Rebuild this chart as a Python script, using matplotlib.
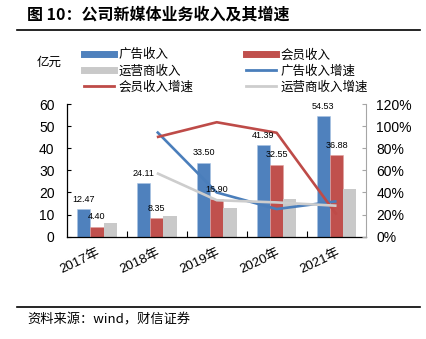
import matplotlib.pyplot as plt
from matplotlib.lines import Line2D
from matplotlib.ticker import FuncFormatter
import numpy as np

plt.rcParams['font.family'] = ['Liberation Sans', 'Noto Sans CJK SC', 'DejaVu Sans']

# data
years = ['2017年', '2018年', '2019年', '2020年', '2021年']
ad_rev = [12.47, 24.11, 33.50, 41.39, 54.53]
vip_rev = [4.40, 8.35, 16.90, 32.55, 36.88]
op_rev = [6.2, 9.3, 12.8, 17.0, 21.5]
# growth rates (2018-2021)
ad_growth = [0.95, 0.40, 0.25, 0.32]
vip_growth = [0.90, 1.035, 0.94, 0.20]
op_growth = [0.575, 0.33, 0.31, 0.28]

c_blue, c_red, c_grey = '#4F81BD', '#C0504D', '#C9C9C9'
lc_blue, lc_red, lc_grey = '#4A7EBB', '#BE4B48', '#CDCDCD'

fig = plt.figure(figsize=(4.26, 3.39), dpi=100)
W, H = 426, 339
ax = fig.add_axes([67/W, 1-236.7/H, (366.5-67)/W, (236.7-104)/H])
ax2 = ax.twinx()

x = np.arange(len(years))
w = 0.22
ax.bar(x - w, ad_rev, w, color=c_blue, edgecolor='#A9C4E4', linewidth=0.4)
ax.bar(x, vip_rev, w, color=c_red, edgecolor='#E0A09E', linewidth=0.4)
ax.bar(x + w, op_rev, w, color=c_grey, linewidth=0)

xg = x[1:]
ax2.plot(xg, ad_growth, color=lc_blue, lw=1.9, solid_capstyle='butt')
ax2.plot(xg, vip_growth, color=lc_red, lw=1.9, solid_capstyle='butt')
ax2.plot(xg, op_growth, color=lc_grey, lw=1.9, solid_capstyle='butt')

# value labels for ad and vip bars
for i in range(len(years)):
    ax2.annotate(f'{ad_rev[i]:.2f}', (x[i] - w, ad_rev[i]), xycoords=ax.transData,
                 xytext=(0, 4), textcoords='offset points', ha='center', va='bottom',
                 fontsize=6.5)
    ax2.annotate(f'{vip_rev[i]:.2f}', (x[i], vip_rev[i]), xycoords=ax.transData,
                 xytext=(0, 4), textcoords='offset points', ha='center', va='bottom',
                 fontsize=6.5)

ax.set_xlim(-0.5, 4.5)
ax.set_ylim(0, 60)
ax.set_yticks(range(0, 61, 10))
ax2.set_ylim(0, 1.2)
ax2.set_yticks(np.arange(0, 1.21, 0.2))
ax2.yaxis.set_major_formatter(FuncFormatter(lambda v, p: f'{v*100:.0f}%'))

ax.set_xticks(x)
ax.set_xticklabels(years, rotation=25, ha='right', rotation_mode='anchor', fontsize=9.5)
ax.set_xticks(np.arange(0.5, 4.5, 1), minor=True)
ax.tick_params(axis='x', which='major', length=0, pad=7)
ax.tick_params(axis='x', which='minor', direction='in', length=4, width=0.8)
ax.tick_params(axis='y', direction='in', length=3, width=0.8, labelsize=10, pad=9)
ax2.tick_params(axis='y', direction='in', length=3, width=0.8, color='#A6A6A6',
                labelsize=10, pad=7)

for a in (ax, ax2):
    a.spines['top'].set_visible(False)
ax.spines['right'].set_visible(False)
ax2.spines['left'].set_visible(False)
ax2.spines['bottom'].set_visible(False)
ax2.spines['right'].set_color('#A6A6A6')
ax.spines['left'].set_linewidth(0.9)
ax.spines['bottom'].set_linewidth(0.9)

# legend
handles = [
    Line2D([], [], color=c_blue, lw=5),
    Line2D([], [], color=c_grey, lw=5),
    Line2D([], [], color=lc_red, lw=2),
    Line2D([], [], color=c_red, lw=5),
    Line2D([], [], color=lc_blue, lw=2),
    Line2D([], [], color=lc_grey, lw=2),
]
labels = ['广告收入', '运营商收入', '会员收入增速', '会员收入', '广告收入增速', '运营商收入增速']
fig.legend(handles, labels, ncol=2, loc='upper left', bbox_to_anchor=(84/W, 1-49/H),
           frameon=False, fontsize=9, borderpad=0, borderaxespad=0,
           handlelength=2.4, handletextpad=0.35, columnspacing=4.2, labelspacing=0.3)
fig.text(37/W, 1-63/H, '亿元', fontsize=9, va='center', ha='left')

# title and source
fig.text(27/W, 1-15/H, '图 10：公司新媒体业务收入及其增速', fontsize=11.5,
         fontweight='bold', va='center', ha='left',
         family=['Noto Sans CJK SC', 'DejaVu Sans'])
fig.add_artist(Line2D([17/W, 420/W], [1-29.5/H, 1-29.5/H], color='black', lw=1.2))
fig.add_artist(Line2D([17/W, 420/W], [1-306.5/H, 1-306.5/H], color='black', lw=1.2))
fig.text(27/W, 1-320/H, '资料来源：wind，财信证券', fontsize=9.5, va='center',
         ha='left', style='italic', family=['Noto Sans CJK SC', 'DejaVu Sans'])

fig.savefig('out.png', dpi=100)
